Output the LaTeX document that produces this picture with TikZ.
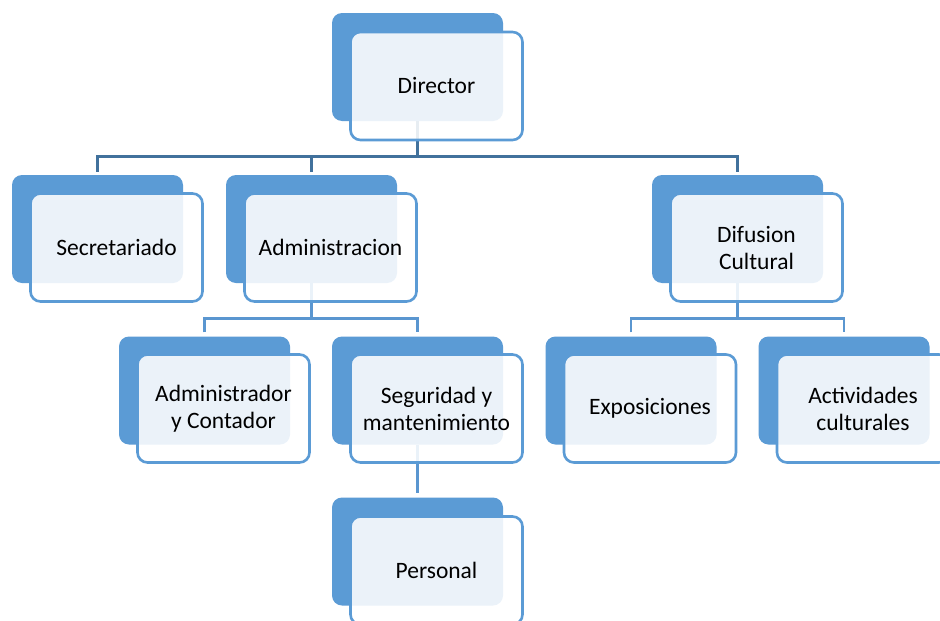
\documentclass[tikz,border=0pt]{standalone}
\usepackage{fontspec}
\setmainfont{Carlito}
\usetikzlibrary{calc}
\definecolor{acc}{HTML}{5B9BD5}
\definecolor{accdark}{HTML}{41719C}
\definecolor{lvltwo}{HTML}{5A96D0}
\tikzset{
  backbox/.style={rectangle, rounded corners=10pt, fill=acc, draw=none,
    minimum width=171pt, minimum height=108pt, inner sep=0pt},
  frontbox/.style={rectangle, rounded corners=10pt, draw=acc, line width=2.6pt,
    fill=white, fill opacity=0.88, text opacity=1, text=black,
    minimum width=172pt, minimum height=108pt, inner sep=2pt, align=center,
    font=\fontsize{23.5}{27}\selectfont},
  lvlone/.style={draw=accdark, line width=2.8pt},
  lvltwoline/.style={draw=lvltwo, line width=2.8pt},
}
\begin{document}
\begin{tikzpicture}[x=1pt,y=-1pt]
\clip (0,0) rectangle (940,621);
\fill[white] (0,0) rectangle (940,621);
% back boxes
\node[backbox] (dirB) at (417.5,67) {};
\node[backbox] (secB) at (97.5,229) {};
\node[backbox] (admB) at (311.5,229) {};
\node[backbox] (difB) at (737.5,229) {};
\node[backbox] (acoB) at (204.5,390.5) {};
\node[backbox] (segB) at (417.5,390.5) {};
\node[backbox] (expB) at (631,390.5) {};
\node[backbox] (actB) at (844,390.5) {};
\node[backbox] (perB) at (417.5,551.5) {};
% connectors
\draw[lvlone] (dirB.south) -- ++(0,36);
\draw[lvlone] ($(secB.north)+(0,-3)$) -- ++(0,-15) -| ($(difB.north)+(0,-3)$);
\draw[lvlone] ($(admB.north)+(0,-3)$) -- ++(0,-15);
\draw[lvltwoline] (admB.south) -- ++(0,36);
\draw[lvltwoline] ($(acoB.north)+(0,-4)$) -- ++(0,-14) -| ($(segB.north)+(0,-4)$);
\draw[lvltwoline] (difB.south) -- ++(0,36);
\draw[lvltwoline] ($(expB.north)+(0,-4)$) -- ++(0,-14) -| ($(actB.north)+(0,-4)$);
\draw[lvltwoline] (segB.south) -- ($(perB.north)+(0,-4)$);
% front boxes
\node[frontbox] (dir) at ($(dirB)+(19,19)$) {Director};
\node[frontbox] (sec) at ($(secB)+(19,18.5)$) {Secretariado};
\node[frontbox] (adm) at ($(admB)+(19,18.5)$) {Administracion};
\node[frontbox] (dif) at ($(difB)+(19,18.5)$) {Difusion\\Cultural};
\node[frontbox] (aco) at ($(acoB)+(19,18)$) {Administrador\\y Contador};
\node[frontbox] (seg) at ($(segB)+(19,18)$) {Seguridad y\\mantenimiento};
\node[frontbox] (exp) at ($(expB)+(19,18)$) {Exposiciones};
\node[frontbox] (act) at ($(actB)+(19,18)$) {Actividades\\culturales};
\node[frontbox] (per) at ($(perB)+(19,19)$) {Personal};
\end{tikzpicture}
\end{document}
